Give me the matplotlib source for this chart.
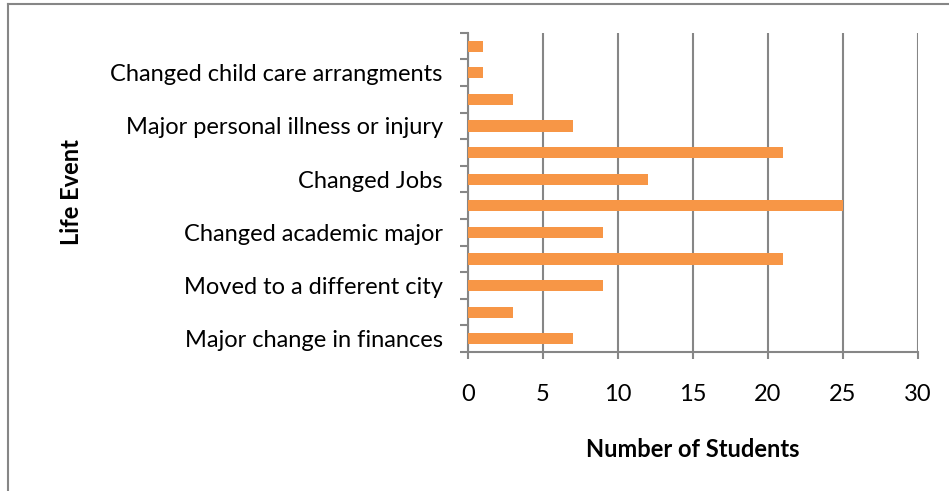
"""Life events horizontal bar chart"""
import numpy as np
import matplotlib.pyplot as plt
from matplotlib.lines import Line2D

# bottom to top; only every other category label is shown in the source
labels = ["Major change in finances", "", "Moved to a different city", "",
          "Changed academic major", "", "Changed Jobs", "",
          "Major personal illness or injury", "", "Changed child care arrangments", ""]
students = [7, 3, 9, 21, 9, 25, 12, 21, 7, 3, 1, 1]
xticks = [0, 5, 10, 15, 20, 25, 30]

plt.rcParams['font.family'] = ['Lato', 'DejaVu Sans']
fs = 17

fig = plt.figure(figsize=(9.49, 4.91), dpi=100)
ax = fig.add_axes([0.493, 0.283, 0.474, 0.650])

y = np.arange(len(students))
ax.barh(y, students, height=0.42, color="#F79646", zorder=3)

ax.set_xlim(0, 30)
ax.set_ylim(-0.5, len(students) - 0.5)
ax.set_xticks(xticks)
ax.set_xticklabels([str(t) for t in xticks], fontsize=fs)
ax.grid(axis='x', color="#868686", linewidth=1.5, zorder=0)

# labels on every other category, boundary ticks between categories
ax.set_yticks(y[::2])
ax.set_yticklabels(labels[::2], fontsize=fs)
ax.set_yticks(np.arange(-0.5, len(students)), minor=True)
ax.tick_params(axis='y', which='major', length=0, pad=18)
ax.tick_params(axis='y', which='minor', length=6, width=1.5, color="#868686", direction='out')
ax.tick_params(axis='x', length=5, width=1.5, color="#868686", pad=18)

for s in ['top', 'right']:
    ax.spines[s].set_visible(False)
for s in ['left', 'bottom']:
    ax.spines[s].set_color("#868686")
    ax.spines[s].set_linewidth(1.5)

ax.set_xlabel("Number of Students", fontsize=fs, fontweight='bold', labelpad=24)
ax.set_ylabel("Life Event", fontsize=fs, fontweight='bold')
ax.yaxis.set_label_coords(-0.855, 0.5)

# chart area border (cut off at right and bottom)
fig.add_artist(Line2D([8/949, 8/949], [0, 1 - 4/491], color="#868686", linewidth=1.5))
fig.add_artist(Line2D([8/949, 1], [1 - 4/491, 1 - 4/491], color="#868686", linewidth=1.5))

fig.savefig("out.png", dpi=100)
